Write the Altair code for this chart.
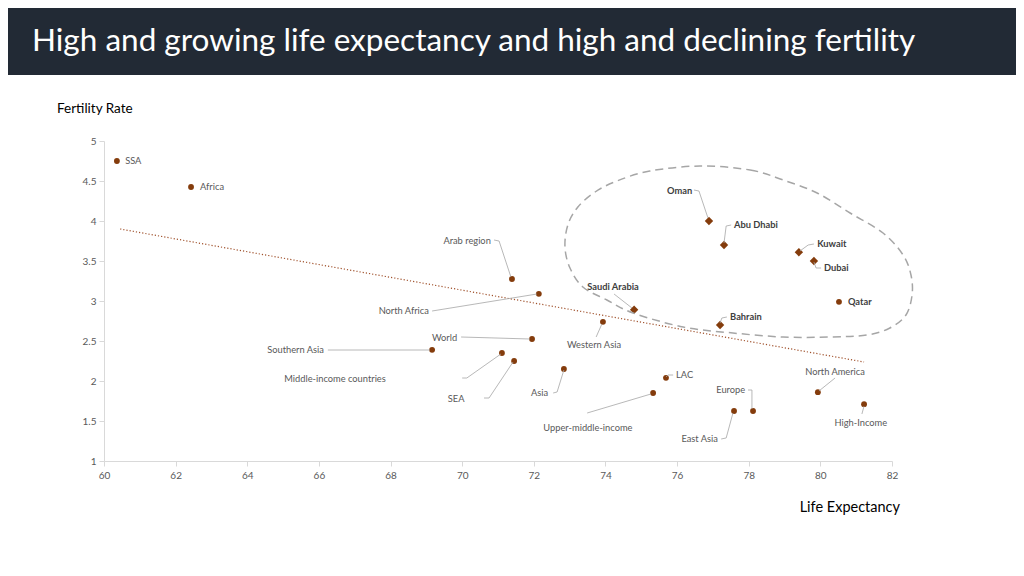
import altair as alt
import pandas as pd

# ---------------- data ----------------
names = ["SSA", "Africa", "Arab region", "North Africa", "World", "Southern Asia",
         "Middle-income countries", "SEA", "Western Asia", "Asia", "Upper-middle-income",
         "LAC", "East Asia", "Europe", "North America", "High-Income",
         "Oman", "Abu Dhabi", "Kuwait", "Dubai", "Qatar", "Saudi Arabia", "Bahrain"]
life_exp = [60.36, 62.43, 71.39, 72.14, 71.95, 69.16, 71.11, 71.45, 73.93, 72.84, 75.33,
            75.69, 77.59, 78.12, 79.93, 81.22,
            76.89, 77.31, 79.40, 79.82, 80.52, 74.80, 77.20]
fertility = [4.75, 4.425, 3.275, 3.09, 2.525, 2.39, 2.35, 2.25, 2.74, 2.15, 1.85,
             2.04, 1.625, 1.625, 1.86, 1.71,
             4.00, 3.70, 3.61, 3.50, 2.99, 2.89, 2.70]
marker = ["circle"] * 16 + ["diamond", "diamond", "diamond", "diamond", "circle", "diamond", "diamond"]

# label anchors (data coordinates) and alignment
label_x = [60.59, 62.68, 70.80, 69.07, 69.86, 66.14, 66.45, 69.83, 73.68, 72.40, 73.51,
           75.97, 77.14, 77.90, 80.41, 81.13,
           76.42, 77.59, 79.91, 80.10, 80.77, 74.21, 77.48]
label_y = [4.75, 4.425, 3.75, 2.875, 2.5375, 2.3875, 2.025, 1.775, 2.45, 1.85, 1.4125,
           2.075, 1.275, 1.8875, 2.1125, 1.475,
           4.375, 3.95, 3.7125, 3.4125, 2.9875, 3.175, 2.80]
label_align = ["left", "left", "right", "right", "right", "right", "center", "center", "center",
               "right", "center", "left", "right", "right", "center", "center",
               "right", "left", "left", "left", "left", "center", "left"]
label_bold = [False] * 16 + [True] * 7

# leader lines: list of (x, y) vertices per label
leaders = {
    "Oman": [(76.47, 4.3875), (76.61, 4.375), (76.86, 4.04)],
    "Abu Dhabi": [(77.51, 3.95), (77.37, 3.9375), (77.31, 3.725)],
    "Kuwait": [(79.82, 3.7125), (79.66, 3.70), (79.43, 3.625)],
    "Dubai": [(80.02, 3.4125), (79.88, 3.4125), (79.82, 3.4875)],
    "Saudi Arabia": [(74.24, 3.0875), (74.74, 2.9125)],
    "Bahrain": [(77.39, 2.80), (77.25, 2.7875), (77.20, 2.725)],
    "Arab region": [(70.89, 3.7625), (71.03, 3.75), (71.36, 3.30)],
    "North Africa": [(69.16, 2.875), (72.09, 3.0875)],
    "World": [(69.97, 2.55), (71.89, 2.525)],
    "Southern Asia": [(66.25, 2.3875), (69.10, 2.3875)],
    "Middle-income countries": [(70.00, 2.0375), (70.13, 2.0375), (71.08, 2.3375)],
    "SEA": [(70.61, 1.7875), (70.75, 1.7875), (71.42, 2.2375)],
    "Western Asia": [(73.74, 2.55), (73.90, 2.7125)],
    "Asia": [(72.54, 1.85), (72.65, 1.8625), (72.84, 2.1375)],
    "Upper-middle-income": [(73.49, 1.60), (75.27, 1.8375)],
    "LAC": [(75.89, 2.075), (75.75, 2.075), (75.69, 2.05)],
    "Europe": [(77.98, 1.8875), (78.09, 1.8875), (78.09, 1.65)],
    "East Asia": [(77.23, 1.275), (77.37, 1.2875), (77.56, 1.60)],
    "North America": [(80.41, 2.0375), (79.96, 1.875)],
    "High-Income": [(81.16, 1.5875), (81.22, 1.6875)],
}

# trendline end points
trend_x = [60.45, 81.22]
trend_y = [3.90, 2.2375]

# dashed outline around the GCC group
ring_x = [76.64, 78.04, 78.96, 79.91, 80.83, 81.75, 82.31, 82.53, 82.56, 82.39, 81.94,
          81.30, 80.27, 78.96, 77.56, 76.17, 74.77, 74.04, 73.37, 73.01, 72.87, 72.95,
          73.23, 73.71, 74.32, 75.24]
ring_y = [4.6875, 4.6375, 4.5125, 4.35, 4.10, 3.85, 3.575, 3.325, 3.075, 2.825, 2.6625,
          2.575, 2.55, 2.55, 2.60, 2.675, 2.85, 3.0125, 3.175, 3.4125, 3.675, 3.95,
          4.175, 4.3625, 4.50, 4.625]

x_ticks = list(range(60, 83, 2))
y_ticks = [1, 1.5, 2, 2.5, 3, 3.5, 4, 4.5, 5]

TITLE = "High and growing life expectancy and high and declining fertility"
FONT = "Lato"
BROWN = "#843c0c"

# ---------------- frames ----------------
pts = pd.DataFrame({"name": names, "le": life_exp, "fr": fertility, "marker": marker})
labs = pd.DataFrame({"name": names, "lx": label_x, "ly": label_y,
                     "align": label_align, "bold": label_bold})
lead_rows = []
for nm, verts in leaders.items():
    for i, (vx, vy) in enumerate(verts):
        lead_rows.append({"name": nm, "i": i, "x": vx, "y": vy})
lead = pd.DataFrame(lead_rows)
trend = pd.DataFrame({"x": trend_x, "y": trend_y})
ring = pd.DataFrame({"x": ring_x, "y": ring_y, "i": list(range(len(ring_x)))})
one = pd.DataFrame({"a": [0]})

xs = alt.Scale(domain=[60, 82], nice=False, zero=False)
ys = alt.Scale(domain=[1, 5], nice=False, zero=False)

axis_common = dict(grid=False, domainColor="#d9d9d9", tickColor="#d9d9d9", tickSize=5,
                   labelColor="#595959", labelFontSize=10, labelFont=FONT, title=None,
                   labelFlush=False, labelOverlap=False)
XAX = alt.Axis(values=x_ticks, labelPadding=4, **axis_common)
YAX = alt.Axis(values=y_ticks, format="~f", labelPadding=3, **axis_common)


def X(field):
    return alt.X(field, type="quantitative", scale=xs, axis=XAX, title=None)


def Y(field):
    return alt.Y(field, type="quantitative", scale=ys, axis=YAX, title=None)


points_circle = alt.Chart(pts).transform_filter(alt.datum.marker == "circle").mark_point(
    shape="circle", filled=True, size=34, color=BROWN, opacity=1
).encode(x=X("le"), y=Y("fr"))

points_diamond = alt.Chart(pts).transform_filter(alt.datum.marker == "diamond").mark_point(
    shape="diamond", filled=True, size=70, color=BROWN, opacity=1
).encode(x=X("le"), y=Y("fr"))

trend_line = alt.Chart(trend).mark_line(color="#a0522d", strokeWidth=1.2, strokeDash=[1.2, 2]).encode(
    x=X("x"), y=Y("y")
)

ring_line = alt.Chart(ring).mark_line(
    color="#a6a6a6", strokeWidth=1.5, strokeDash=[8, 5], interpolate="cardinal-closed"
).encode(x=X("x"), y=Y("y"), order="i:Q")

leader_lines = alt.Chart(lead).mark_line(color="#a6a6a6", strokeWidth=0.8).encode(
    x=X("x"), y=Y("y"), detail="name:N", order="i:Q"
)


def label_layer(align, bold):
    df = labs[(labs["align"] == align) & (labs["bold"] == bold)]
    return alt.Chart(df).mark_text(
        align=align, baseline="middle", font=FONT, fontSize=9.3,
        fontWeight="bold" if bold else "normal",
        color="#404040" if bold else "#595959"
    ).encode(x=X("lx"), y=Y("ly"), text="name:N")


label_layers = []
for a in ["left", "right", "center"]:
    for b in [False, True]:
        if ((labs["align"] == a) & (labs["bold"] == b)).any():
            label_layers.append(label_layer(a, b))

title_bar = alt.Chart(one).mark_rect(color="#222a35").encode(
    x=alt.value(-120), x2=alt.value(940), y=alt.value(-160), y2=alt.value(-66)
)
title_text = alt.Chart(one).mark_text(
    text=TITLE, align="left", baseline="middle", font=FONT, fontSize=31.5, color="#ffffff"
).encode(x=alt.value(-72), y=alt.value(-99))

y_title = alt.Chart(one).mark_text(
    text="Fertility Rate", align="left", baseline="middle", font=FONT, fontSize=13.5, color="#000000"
).encode(x=alt.value(-47), y=alt.value(-32))

x_title = alt.Chart(one).mark_text(
    text="Life Expectancy", align="right", baseline="middle", font=FONT, fontSize=14.5, color="#000000"
).encode(x=alt.value(796), y=alt.value(367))

chart = alt.layer(
    points_circle, points_diamond,
    ring_line, trend_line, leader_lines,
    *label_layers,
    title_bar, title_text, y_title, x_title,
).resolve_scale(x="shared", y="shared").properties(
    width=788, height=320,
    autosize=alt.AutoSizeParams(type="none"),
    padding={"left": 96, "top": 133, "right": 124, "bottom": 107},
    background="#ffffff",
).configure_view(stroke=None)

chart.save("out.html", embed_options={"renderer": "svg", "actions": False})
